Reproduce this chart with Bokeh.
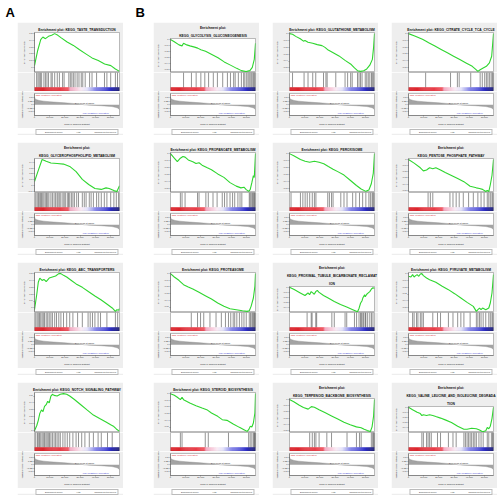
import numpy as np
from bokeh.plotting import figure
from bokeh.layouts import column, row
from bokeh.models import (Range1d, DataRange1d, Label, Legend, LegendItem, Spacer, Title,
                          SingleIntervalTicker, FixedTicker, NumeralTickFormatter)
from bokeh.embed import file_html
from bokeh.resources import INLINE

# ---------------- data (ranks in thousands of genes) ----------------
N_GENES = 56000
RANK_TICKS = [0, 10000, 20000, 30000, 40000, 50000]
METRIC_TICKS = [-0.5, -0.25, 0.0, 0.25, 0.5]

metric_rank_k = [0, 0.2, 1, 3, 6, 10, 15, 20, 25, 30, 33, 36, 40, 44, 48, 51, 53, 54.5, 55.5, 56]
metric_vals = [0.55, 0.45, 0.38, 0.31, 0.26, 0.22, 0.18, 0.14, 0.10, 0.05, 0.0, -0.02, -0.04,
               -0.06, -0.09, -0.12, -0.16, -0.21, -0.27, -0.35]
zero_cross = 33000

taste_title = "Enrichment plot: KEGG_TASTE_TRANSDUCTION"
taste_rank = [0, 2.1, 4.1, 5.5, 7.2, 9.2, 11.3, 13.3, 15.4, 17.4, 21.5, 25.6, 29.7, 33.8, 37.9, 42.0, 46.2, 50.3, 53.3, 56]
taste_es = [0.025, 0.25, 0.41, 0.45, 0.425, 0.46, 0.475, 0.5, 0.475, 0.44, 0.375, 0.325, 0.26, 0.2, 0.14, 0.1, 0.05, 0.025, -0.025, -0.06]
taste_hits = [1.4, 2.3, 3.1, 3.9, 4.7, 6.2, 7.2, 8.2, 9.2, 10.9, 11.7, 13.3, 15.0, 16.4, 18.5, 19.5, 22.6, 23.6, 24.6, 25.6,
              26.7, 28.1, 29.3, 30.8, 31.8, 33.4, 36.3, 37.9, 40.9, 46.1, 47.7, 50.2, 53.3, 54.7]

gpl_title = "Enrichment plot:\nKEGG_GLYCEROPHOSPHOLIPID_METABOLISM"
gpl_rank = [0, 2.5, 5.0, 7.7, 10.8, 14.9, 19.1, 23.2, 27.4, 31.5, 35.7, 39.8, 44.0, 47.1, 49.2, 52.3, 54.3, 56]
gpl_es = [0.068, 0.26, 0.45, 0.42, 0.39, 0.38, 0.37, 0.33, 0.24, 0.105, 0.016, -0.053, -0.068, -0.042, -0.053, -0.089, -0.105, -0.005]
gpl_hits = [0.8, 1.7, 2.5, 3.1, 3.9, 4.6, 5.4, 6.2, 7.1, 7.9, 8.7, 9.5, 10.8, 11.8, 12.9, 13.9, 14.9, 15.6, 16.6, 17.4,
            18.7, 19.5, 20.3, 21.6, 22.4, 23.2, 24.3, 25.3, 26.3, 27.8, 29.0, 31.5, 32.8, 34.0, 36.1, 37.3, 38.8, 40.9,
            42.3, 44.0, 46.0, 47.7, 50.2, 52.3, 53.9, 55.4]

abc_title = "Enrichment plot: KEGG_ABC_TRANSPORTERS"
abc_rank = [0, 1.5, 2.5, 3.5, 5.0, 6.2, 7.7, 9.7, 11.8, 13.9, 16.0, 17.4, 19.1, 21.2, 24.3, 27.4, 31.5, 35.7, 39.8, 44.0, 48.1, 51.2, 53.3, 54.3, 55.4, 56]
abc_es = [-0.025, 0.2, 0.375, 0.435, 0.4, 0.415, 0.385, 0.435, 0.45, 0.465, 0.5, 0.5, 0.475, 0.45, 0.4, 0.35, 0.3, 0.235, 0.175, 0.115, 0.05, 0.0, -0.05, -0.025, -0.035, -0.01]
abc_hits = [0.8, 1.7, 2.5, 3.3, 4.1, 5.0, 5.8, 6.6, 7.7, 8.7, 9.7, 10.8, 11.8, 13.3, 14.5, 16.0, 17.4, 19.1, 21.2, 23.2,
            25.3, 28.4, 31.5, 35.3, 36.7, 38.2, 39.8, 41.9, 43.5, 47.7, 53.3, 54.8]

notch_title = "Enrichment plot: KEGG_NOTCH_SIGNALING_PATHWAY"
notch_rank = [0, 1.5, 2.5, 3.5, 4.6, 5.6, 6.6, 7.7, 8.7, 9.7, 10.8, 11.8, 12.9, 14.9, 17.0, 19.1, 21.2, 23.2, 26.3, 30.5, 34.6, 38.8, 42.9, 47.1, 50.2, 52.3, 53.9, 56]
notch_es = [0, 0.075, 0.15, 0.25, 0.3, 0.275, 0.35, 0.375, 0.425, 0.4, 0.5, 0.525, 0.51, 0.5, 0.525, 0.535, 0.525, 0.5, 0.45, 0.375, 0.3, 0.225, 0.175, 0.125, 0.085, 0.06, 0.025, -0.01]
notch_hits = [0.8, 1.9, 2.5, 3.3, 4.1, 5.0, 5.8, 6.6, 7.5, 8.3, 9.1, 9.9, 10.8, 11.8, 12.9, 13.9, 14.9, 16.0, 17.0, 18.7,
              20.1, 21.6, 23.2, 25.3, 27.4, 29.0, 31.1, 33.2, 36.1, 38.8, 41.9, 44.0, 48.1, 51.2]

glyco_title = "Enrichment plot:\nKEGG_GLYCOLYSIS_GLUCONEOGENESIS"
glyco_rank = [0, 2.5, 5.6, 7.6, 8.6, 10.7, 12.8, 15.9, 17.9, 20.0, 23.1, 27.2, 31.3, 35.4, 39.5, 43.6, 46.7, 49.8, 52.3, 53.9, 55.2, 56]
glyco_es = [0, -0.037, -0.089, -0.105, -0.063, -0.089, -0.105, -0.126, -0.142, -0.168, -0.195, -0.247, -0.3, -0.368, -0.421, -0.474, -0.511, -0.526, -0.511, -0.458, -0.326, -0.063]
glyco_hits = [8.6, 13.8, 16.9, 20.0, 22.6, 25.1, 28.2, 30.9, 34.4, 37.5, 39.5, 41.6, 42.6, 44.7, 46.7, 48.2, 49.0, 50.2,
              51.1, 51.9, 52.9, 53.6, 54.4, 55.0, 55.6]

glut_title = "Enrichment plot: KEGG_GLUTATHIONE_METABOLISM"
glut_rank = [0, 2.0, 4.1, 7.1, 9.2, 10.2, 12.2, 15.3, 18.3, 21.4, 23.4, 25.5, 28.5, 32.6, 36.6, 40.7, 42.8, 44.8, 46.8, 48.9, 50.9, 52.9, 54.6, 55.4, 56]
glut_es = [0, -0.01, -0.04, -0.075, -0.11, -0.1, -0.125, -0.14, -0.16, -0.175, -0.2, -0.24, -0.275, -0.325, -0.39, -0.45, -0.5, -0.54, -0.55, -0.54, -0.515, -0.46, -0.375, -0.2, 0]
glut_hits = [2.0, 9.6, 12.2, 15.3, 17.3, 22.4, 24.0, 24.8, 30.5, 36.6, 38.3, 40.3, 41.3, 44.8, 45.8, 46.8, 47.8, 49.9,
             50.9, 51.9, 52.9, 54.0, 54.6, 55.4]

citr_title = "Enrichment plot: KEGG_CITRATE_CYCLE_TCA_CYCLE"
citr_rank = [0, 4.1, 9.2, 11.3, 13.3, 17.4, 21.5, 25.6, 29.7, 33.8, 37.9, 42.0, 44.5, 45.7, 47.2, 49.2, 51.3, 53.3, 54.8, 56]
citr_es = [0, -0.035, -0.085, -0.11, -0.135, -0.185, -0.235, -0.285, -0.335, -0.385, -0.435, -0.485, -0.535, -0.56, -0.535, -0.51, -0.485, -0.435, -0.335, 0]
citr_hits = [11.3, 27.7, 32.2, 33.4, 41.0, 47.2, 48.6, 50.2, 51.3, 52.3, 53.3, 54.4, 55.2, 55.8]

prop_title = "Enrichment plot: KEGG_PROPANOATE_METABOLISM"
prop_rank = [0, 2.5, 4.5, 6.5, 8.2, 9.6, 11.7, 14.7, 16.8, 18.8, 20.8, 23.9, 27.0, 31.1, 35.2, 39.2, 43.3, 46.4, 48.4, 49.9, 51.5, 52.5, 53.6, 54.6, 55.2, 56]
prop_es = [0, -0.065, -0.115, -0.065, -0.04, -0.05, -0.09, -0.115, -0.14, -0.13, -0.165, -0.2, -0.23, -0.29, -0.34, -0.415, -0.465, -0.49, -0.48, -0.515, -0.54, -0.515, -0.415, -0.315, -0.34, 0]
prop_hits = [6.5, 7.6, 9.6, 17.8, 18.8, 23.3, 24.9, 28.0, 30.7, 34.1, 35.6, 37.2, 39.2, 40.9, 42.3, 44.4, 45.8, 47.0,
             51.9, 52.5, 53.2, 54.0, 54.6, 55.2, 55.6]

perox_title = "Enrichment plot: KEGG_PEROXISOME"
perox_rank = [0, 3.1, 7.2, 10.3, 13.3, 16.4, 19.5, 22.6, 25.6, 28.7, 31.8, 35.9, 40.0, 44.1, 47.2, 50.3, 52.3, 53.9, 55.2, 56]
perox_es = [0, -0.035, -0.085, -0.11, -0.125, -0.11, -0.125, -0.145, -0.185, -0.225, -0.26, -0.31, -0.385, -0.46, -0.51, -0.545, -0.525, -0.435, -0.285, 0]
perox_hits = [1.0, 7.2, 8.8, 10.3, 11.7, 13.3, 15.0, 16.4, 17.4, 25.2, 26.3, 27.7, 28.7, 33.8, 35.9, 37.9, 41.6, 43.7,
              46.1, 48.2, 50.3, 52.3, 53.3, 54.4, 55.0, 55.6]

pent_title = "Enrichment plot:\nKEGG_PENTOSE_PHOSPHATE_PATHWAY"
pent_rank = [0, 3.7, 7.8, 9.8, 11.9, 13.9, 16.0, 18.0, 21.1, 24.2, 28.3, 32.4, 36.5, 40.6, 44.7, 46.8, 48.8, 50.9, 51.9, 52.9, 53.9, 55.0, 56]
pent_es = [0, -0.06, -0.135, -0.185, -0.17, -0.135, -0.15, -0.135, -0.17, -0.21, -0.26, -0.31, -0.36, -0.435, -0.46, -0.47, -0.485, -0.52, -0.5, -0.52, -0.41, -0.26, 0]
pent_hits = [12.9, 14.4, 16.0, 27.3, 29.3, 31.4, 33.4, 36.1, 39.6, 42.7, 45.7, 47.8, 49.8, 51.9, 52.9, 53.9, 55.0, 55.6]

prot_title = "Enrichment plot: KEGG_PROTEASOME"
prot_rank = [0, 2.5, 5.5, 8.6, 11.7, 14.7, 18.8, 22.9, 27.0, 31.1, 35.2, 39.2, 43.3, 47.4, 50.5, 51.9, 53.1, 54.6, 55.6, 56]
prot_es = [0, -0.05, -0.1, -0.165, -0.2, -0.23, -0.28, -0.33, -0.38, -0.44, -0.49, -0.525, -0.54, -0.555, -0.565, -0.555, -0.49, -0.365, -0.19, 0]
prot_hits = [13.7, 17.8, 19.8, 21.9, 26.0, 30.0, 33.5, 36.2, 38.2, 39.7, 41.3, 42.3, 43.7, 45.4, 47.0, 48.4, 49.9, 51.9,
             52.7, 53.6, 54.2, 54.8, 55.4, 55.8]

prox_title = "Enrichment plot:\nKEGG_PROXIMAL_TUBULE_BICARBONATE_RECLAMAT\nION"
prox_rank = [0, 3.1, 7.1, 10.2, 11.2, 12.2, 13.2, 14.3, 15.3, 16.3, 17.3, 18.3, 19.3, 22.4, 25.5, 29.5, 33.6, 37.7, 41.7, 44.8,
             45.8, 46.8, 47.8, 48.3, 49.5, 49.9, 50.9, 51.9, 52.9, 54.0, 55.0, 56]
prox_es = [0, -0.045, -0.11, -0.16, -0.135, -0.11, -0.145, -0.085, -0.11, -0.135, -0.085, -0.06, -0.095, -0.16, -0.21, -0.275,
           -0.335, -0.385, -0.435, -0.475, -0.41, -0.31, -0.26, -0.21, -0.145, -0.185, -0.135, -0.11, -0.085, -0.035, -0.01, -0.025]
prox_hits = [11.6, 14.3, 14.9, 17.3, 17.9, 27.9, 29.5, 36.6, 37.7, 42.8, 44.2, 45.8, 46.8, 47.4, 48.3, 48.9, 49.9, 50.3,
             51.5, 52.9, 54.0, 55.0]

pyr_title = "Enrichment plot: KEGG_PYRUVATE_METABOLISM"
pyr_rank = [0, 1.6, 2.7, 3.7, 4.7, 5.7, 6.8, 7.8, 8.8, 9.8, 11.9, 13.9, 18.0, 22.2, 26.3, 30.4, 34.5, 38.6, 42.7, 44.7, 45.7,
            46.8, 47.8, 48.8, 50.9, 52.9, 53.9, 55.0, 56]
pyr_es = [-0.035, -0.045, -0.01, -0.045, -0.025, -0.01, -0.035, 0, 0.005, -0.025, -0.06, -0.085, -0.125, -0.185, -0.235,
          -0.295, -0.36, -0.425, -0.485, -0.56, -0.535, -0.51, -0.535, -0.51, -0.535, -0.51, -0.435, -0.285, -0.01]
pyr_hits = [2.7, 3.7, 5.3, 6.2, 7.8, 8.8, 9.8, 16.0, 19.1, 21.1, 26.3, 29.3, 32.4, 34.5, 36.5, 40.6, 44.7, 45.7, 46.8,
            47.8, 49.2, 50.9, 52.9, 53.9, 55.0, 55.6]

ster_title = "Enrichment plot: KEGG_STEROID_BIOSYNTHESIS"
ster_rank = [0, 2.5, 4.5, 6.5, 7.6, 8.6, 12.7, 16.8, 20.8, 23.9, 27.0, 31.1, 34.1, 37.2, 41.3, 45.4, 48.4, 50.5, 51.5, 52.5, 53.6, 54.6, 55.6, 56]
ster_es = [0, -0.025, -0.055, -0.09, -0.055, -0.09, -0.14, -0.18, -0.215, -0.24, -0.29, -0.34, -0.39, -0.4, -0.455, -0.505, -0.54, -0.565, -0.54, -0.49, -0.5, -0.44, -0.29, 0]
ster_hits = [6.5, 7.6, 22.9, 24.9, 38.2, 51.5, 52.5, 53.6, 54.6, 55.2, 55.6, 55.9]

terp_title = "Enrichment plot:\nKEGG_TERPENOID_BACKBONE_BIOSYNTHESIS"
terp_rank = [0, 3.1, 6.2, 9.2, 12.3, 14.4, 16.4, 19.5, 23.6, 27.7, 31.8, 35.9, 40.0, 44.1, 47.2, 49.2, 51.3, 53.3, 54.4, 55.4, 56]
terp_es = [0, -0.04, -0.09, -0.13, -0.155, -0.115, -0.125, -0.165, -0.215, -0.265, -0.315, -0.365, -0.405, -0.44, -0.455, -0.48, -0.5, -0.515, -0.44, -0.265, 0]
terp_hits = [13.3, 15.0, 16.4, 17.4, 19.5, 24.6, 27.7, 37.9, 44.1, 46.1, 47.2, 53.9, 54.8, 55.4, 55.9]

val_title = "Enrichment plot:\nKEGG_VALINE_LEUCINE_AND_ISOLEUCINE_DEGRADA\nTION"
val_rank = [0, 2.7, 5.7, 7.8, 8.8, 9.8, 11.9, 13.9, 16.0, 18.0, 21.1, 24.2, 28.3, 32.4, 36.5, 38.6, 41.6, 44.7, 46.8, 48.8,
            50.9, 51.9, 52.9, 53.9, 55.0, 56]
val_es = [0, -0.05, -0.1, -0.125, -0.165, -0.15, -0.165, -0.15, -0.165, -0.185, -0.215, -0.25, -0.3, -0.375, -0.435, -0.435,
          -0.415, -0.425, -0.45, -0.485, -0.465, -0.4, -0.425, -0.375, -0.225, 0]
val_hits = [8.8, 9.8, 11.9, 12.9, 13.9, 15.0, 19.1, 21.1, 26.3, 29.3, 31.4, 36.5, 37.5, 38.6, 39.6, 40.6, 41.6, 42.7,
            43.7, 44.7, 46.4, 47.8, 49.2, 51.9, 52.9, 54.6, 55.4, 55.9]

# ---------------- styling ----------------
FONT = "Liberation Sans"
GREEN = "#2fd62f"
BOX = "#eeeeee"
CELL_W = 106
B_LEFT, B_RIGHT = 11, 4
ES_H, HITS_H, MET_H, LEG_H = 50, 19, 37, 7
GAP_V = 7
TINY = "2.3px"

GRAD_STOPS = [(0.0, (214, 22, 30)), (0.40, (238, 70, 82)), (0.42, (243, 165, 190)), (0.55, (250, 234, 244)),
              (0.62, (226, 226, 250)), (0.73, (125, 125, 232)), (0.88, (48, 48, 205)), (1.0, (14, 14, 105))]


def grad_color(f):
    for (f0, c0), (f1, c1) in zip(GRAD_STOPS[:-1], GRAD_STOPS[1:]):
        if f <= f1:
            t = (f - f0) / (f1 - f0) if f1 > f0 else 0.0
            c = [int(round(a + (b - a) * t)) for a, b in zip(c0, c1)]
            return "#%02x%02x%02x" % tuple(c)
    return "#%02x%02x%02x" % GRAD_STOPS[-1][1]


def style_axis(ax, label, label_size=TINY):
    ax.axis_label = label
    ax.axis_label_text_font_size = label_size
    ax.axis_label_text_font = FONT
    ax.axis_label_text_font_style = "normal"
    ax.axis_label_text_color = "#333333"
    ax.axis_label_standoff = 1
    ax.major_label_text_font_size = TINY
    ax.major_label_text_font = FONT
    ax.major_label_text_color = "#333333"
    ax.major_label_standoff = 1
    ax.major_tick_out = 1
    ax.major_tick_in = 0
    ax.minor_tick_out = 0
    ax.minor_tick_in = 0
    ax.axis_line_width = 0.5
    ax.major_tick_line_width = 0.5
    ax.axis_line_color = "#555555"
    ax.major_tick_line_color = "#555555"


def make_cell(title, rank_k, es, hits_k):
    xr = Range1d(0, N_GENES)
    common = dict(width=CELL_W, x_range=xr, toolbar_location=None, output_backend="svg",
                  min_border_left=B_LEFT, min_border_right=B_RIGHT, min_border_bottom=0,
                  border_fill_color=BOX, background_fill_color="white",
                  outline_line_color="#777777", outline_line_width=0.5)
    ranks = [r * 1000 for r in rank_k]

    # --- enrichment score panel (title lines stacked, first added is nearest the frame)
    pe = figure(height=ES_H, min_border_top=10, y_range=DataRange1d(range_padding=0.06), **common)
    for line in reversed(title.split("\n")):
        pe.add_layout(Title(text=line, align="center", standoff=2, text_font=FONT,
                            text_font_size="3.3px", text_font_style="bold", text_color="#111111"), "above")
    pe.line(ranks, es, color=GREEN, line_width=1.1)
    pe.xaxis.visible = False
    pe.grid.visible = False
    pe.yaxis.ticker = SingleIntervalTicker(interval=0.1)
    style_axis(pe.yaxis[0], "Enrichment score (ES)")

    # --- hits + colour bar panel
    ph = figure(height=HITS_H, min_border_top=0, y_range=Range1d(0, 1), **common)
    ph.axis.visible = False
    ph.grid.visible = False
    hits = [h * 1000 for h in hits_k]
    ph.segment(x0=hits, y0=0.21, x1=hits, y1=1.0, color="black", line_width=0.5, line_alpha=0.85)
    edges = np.linspace(0, N_GENES, 91)
    cols = [grad_color((a + b) / 2 / N_GENES) for a, b in zip(edges[:-1], edges[1:])]
    ph.quad(left=edges[:-1], right=edges[1:], bottom=0, top=0.21, fill_color=cols, line_color=cols, line_width=0.3)

    # --- ranked list metric panel
    pm = figure(height=MET_H, min_border_top=2, y_range=Range1d(-0.75, 0.8), **common)
    pm.grid.visible = False
    mr = [r * 1000 for r in metric_rank_k]
    pm.varea(x=mr, y1=0, y2=metric_vals, color="#a3a3a3")
    pm.line(mr, metric_vals, color="#8a8a8a", line_width=0.4)
    pm.yaxis.ticker = FixedTicker(ticks=METRIC_TICKS)
    style_axis(pm.yaxis[0], "Ranked list metric (Signal2Noise)", label_size="1.9px")
    pm.xaxis.ticker = FixedTicker(ticks=RANK_TICKS)
    pm.xaxis.formatter = NumeralTickFormatter(format="0,0")
    style_axis(pm.xaxis[0], "Rank in Ordered Dataset")
    pm.add_layout(Label(x=0, y=0.8, x_offset=1, y_offset=-0.5, text="'high' (positively correlated)",
                        text_font=FONT, text_font_size="2.2px", text_color="#e0202a", text_baseline="top"))
    pm.add_layout(Label(x=N_GENES * 0.72, y=-0.75, y_offset=1.2, text="'low' (negatively correlated)",
                        text_font=FONT, text_font_size="2.2px", text_color="#3030d0", text_align="center",
                        text_baseline="bottom"))
    pm.add_layout(Label(x=zero_cross, y=0.08, text="Zero cross at %d" % zero_cross,
                        text_font=FONT, text_font_size="2.2px", text_color="#333333", text_align="center",
                        text_baseline="bottom"))

    # --- legend strip
    pl = figure(width=CELL_W, height=LEG_H, toolbar_location=None, output_backend="svg", min_border=0,
                border_fill_color=BOX, background_fill_color=BOX, outline_line_color=None)
    pl.axis.visible = False
    pl.grid.visible = False
    r_es = pl.line(x=[], y=[], color=GREEN, line_width=1)
    r_hit = pl.line(x=[], y=[], color="black", line_width=1)
    r_met = pl.line(x=[], y=[], color="#a3a3a3", line_width=1.5)
    legend = Legend(items=[LegendItem(label="Enrichment profile", renderers=[r_es]),
                           LegendItem(label="Hits", renderers=[r_hit]),
                           LegendItem(label="Ranking metric scores", renderers=[r_met])],
                    orientation="horizontal", location="center",
                    label_text_font=FONT, label_text_font_size="2.2px",
                    glyph_width=7, glyph_height=2, label_height=2, label_width=1,
                    label_standoff=1, spacing=6, padding=1, margin=0,
                    border_line_color="#777777", border_line_width=0.5,
                    background_fill_color="white")
    pl.add_layout(legend)
    return column(pe, ph, pm, pl)


def make_col(specs):
    kids = []
    for i, s in enumerate(specs):
        if i:
            kids.append(Spacer(height=GAP_V, width=CELL_W))
        kids.append(make_cell(*s))
    return column(*kids)


col_a = make_col([(taste_title, taste_rank, taste_es, taste_hits),
                  (gpl_title, gpl_rank, gpl_es, gpl_hits),
                  (abc_title, abc_rank, abc_es, abc_hits),
                  (notch_title, notch_rank, notch_es, notch_hits)])
col_b1 = make_col([(glyco_title, glyco_rank, glyco_es, glyco_hits),
                   (prop_title, prop_rank, prop_es, prop_hits),
                   (prot_title, prot_rank, prot_es, prot_hits),
                   (ster_title, ster_rank, ster_es, ster_hits)])
col_b2 = make_col([(glut_title, glut_rank, glut_es, glut_hits),
                   (perox_title, perox_rank, perox_es, perox_hits),
                   (prox_title, prox_rank, prox_es, prox_hits),
                   (terp_title, terp_rank, terp_es, terp_hits)])
col_b3 = make_col([(citr_title, citr_rank, citr_es, citr_hits),
                   (pent_title, pent_rank, pent_es, pent_hits),
                   (pyr_title, pyr_rank, pyr_es, pyr_hits),
                   (val_title, val_rank, val_es, val_hits)])

# panel letters
lab = figure(width=497, height=22, x_range=Range1d(0, 497), y_range=Range1d(0, 22),
             toolbar_location=None, output_backend="svg", min_border=0,
             outline_line_color=None, border_fill_color="white", background_fill_color="white")
lab.axis.visible = False
lab.grid.visible = False
for xpos, txt in [(5, "A"), (135, "B")]:
    lab.add_layout(Label(x=xpos, y=18, text=txt, text_font=FONT, text_font_size="13px",
                         text_font_style="bold", text_color="black", text_baseline="top"))

grid = row(Spacer(width=17), col_a, Spacer(width=30), col_b1, Spacer(width=13), col_b2,
           Spacer(width=13), col_b3)
root = column(lab, grid)

open("out.html", "w").write(file_html(root, INLINE))
